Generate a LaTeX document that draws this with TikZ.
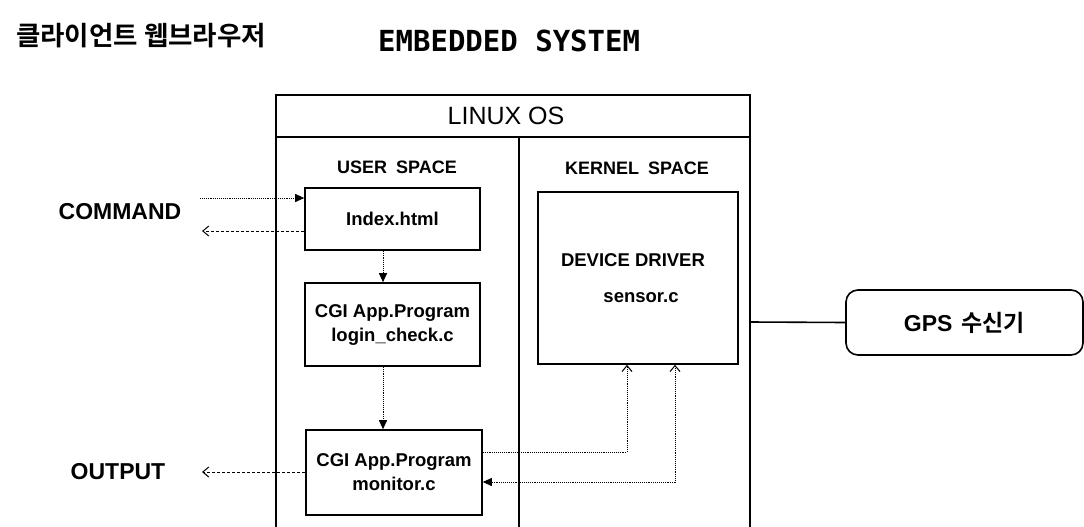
\documentclass[tikz,border=0pt]{standalone}
\usepackage{fontspec}
\setmainfont{Liberation Sans}
\newfontfamily\kofont{Noto Sans CJK KR}[BoldFont={Noto Sans CJK KR Bold}]
\newfontfamily\monofont{DejaVu Sans Mono}
\usetikzlibrary{arrows.meta}
\begin{document}
\begin{tikzpicture}[x=1pt,y=-1pt,
  box/.style={draw,line width=1.6pt,inner sep=0pt},
  frame/.style={line width=1.2pt},
  dotline/.style={densely dotted,line width=0.9pt},
  dashline/.style={dash pattern=on 3pt off 2pt,line width=0.9pt},
  filltip/.style={-{Triangle[length=9pt,width=8pt]}},
  opentip/.style={-{Straight Barb[length=6pt,width=10pt,line width=1pt]}},
  lbl/.style={font=\fontsize{23}{26}\selectfont\bfseries},
  boxtxt/.style={font=\fontsize{18.5}{24}\selectfont\bfseries,align=center},
  spacetxt/.style={font=\fontsize{18}{20}\selectfont\bfseries}
]
\useasboundingbox[fill=white] (0,0) rectangle (1084,527);

% titles
\node[anchor=west,inner sep=0pt] (title1) at (16,36) {\kofont\bfseries\fontsize{26.5}{30}\selectfont 클라이언트 웹브라우저};
\node[anchor=west,inner sep=0pt] (title2) at (378,41) {\monofont\bfseries\fontsize{29}{32}\selectfont EMBEDDED SYSTEM};

% outer frame (open at the bottom)
\coordinate (fl) at (276,527);
\coordinate (ftl) at (276,95);
\coordinate (ftr) at (750,95);
\coordinate (fr) at (750,527);
\draw[frame] (fl) -- (ftl) -- (ftr) -- (fr);
\coordinate (hl) at (276,137);
\coordinate (hr) at (750,137);
\draw[frame] (hl) -- (hr);
\coordinate (dvt) at (519,137);
\coordinate (dvb) at (519,527);
\draw[frame] (dvt) -- (dvb);

\node[font=\fontsize{25}{28}\selectfont] (linux) at (506,116) {LINUX OS};
\node[spacetxt] (user) at (397,167) {USER\hspace{0.5em}SPACE};
\node[spacetxt] (kernel) at (637,168) {KERNEL\hspace{0.5em}SPACE};

% boxes
\node[box,minimum width=175pt,minimum height=62pt,boxtxt] (index) at (392.5,219) {Index.html};
\node[box,minimum width=175pt,minimum height=83pt,boxtxt] (login) at (392.5,324.5) {CGI App.Program\\login\_check.c};
\node[box,minimum width=176pt,minimum height=85pt,boxtxt] (monitor) at (394,472.5) {CGI App.Program\\monitor.c};
\node[box,minimum width=200pt,minimum height=172pt] (dd) at (638,278) {};
\node[boxtxt] (ddt1) at (633,260) {DEVICE DRIVER};
\node[boxtxt] (ddt2) at (641,298) {sensor.c};
\node[box,rounded corners=12pt,minimum width=237pt,minimum height=65pt] (gps) at (964.5,322.5) {\fontsize{23}{26}\selectfont\bfseries GPS\hspace{0.4em}{\kofont\bfseries 수신기}};

% side labels
\node[lbl] (command) at (120,212) {COMMAND};
\node[lbl] (output) at (118,472) {OUTPUT};

% connectors
\coordinate (cmdA) at (200,198);
\coordinate (cmdB) at (202,231);
\draw[dotline,filltip] (cmdA) -- (cmdA -| index.west);
\draw[dashline,opentip] (cmdB -| index.west) -- (cmdB);

\coordinate (ax) at (383,0);
\draw[dotline,filltip] (index.south -| ax) -- (login.north -| ax);
\draw[dotline,filltip] (login.south -| ax) -- (monitor.north -| ax);

\coordinate (outA) at (202,472);
\draw[dashline,opentip] (outA -| monitor.west) -- (outA);

\coordinate (m1) at (627,452);
\coordinate (m2) at (675,482);
\draw[dotline,opentip] (m1 -| monitor.east) -| (dd.south -| m1);
\draw[dotline,{Straight Barb[length=6pt,width=10pt,line width=1pt]}-{Triangle[length=9pt,width=8pt]}] (dd.south -| m2) |- (m2 -| monitor.east);

\coordinate (gpsA) at (750,322);
\draw[line width=1.6pt] (gpsA) -- (gps.west);
\end{tikzpicture}
\end{document}
